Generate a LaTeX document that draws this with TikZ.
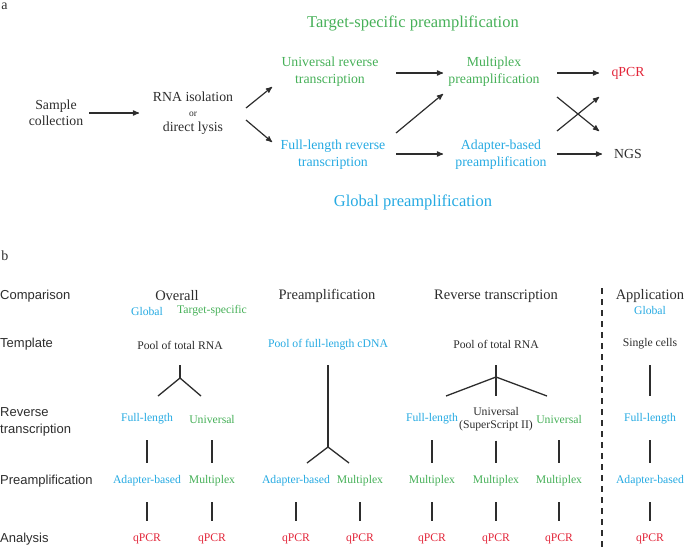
\documentclass[tikz,border=0pt]{standalone}
\usepackage{fontspec}
\setmainfont{Liberation Serif}
\setsansfont{Liberation Sans}
\usepackage{xcolor}
\usepackage{tikz}
\usetikzlibrary{arrows}
\definecolor{tsgreen}{RGB}{70,176,88}
\definecolor{glblue}{RGB}{38,170,226}
\definecolor{pcrred}{RGB}{226,38,58}
\definecolor{ink}{RGB}{45,45,45}
\tikzset{
    txt/.style = {align=center, inner sep=0pt, text=ink},
    flow/.style = {txt, font=\fontsize{13.8}{16.5}\selectfont},
    head/.style = {txt, font=\fontsize{16.5}{18}\selectfont},
    colhead/.style = {txt, font=\fontsize{14.5}{16}\selectfont},
    item/.style = {txt, font=\fontsize{11.7}{13}\selectfont},
    rowlabel/.style = {txt, anchor=west, align=left, font=\sffamily\fontsize{13}{17}\selectfont},
    tsp/.style = {text=tsgreen},
    glb/.style = {text=glblue},
    pcr/.style = {text=pcrred},
    arr/.style = {->, ink, line width=1.2pt},
    link/.style = {ink, line width=1.3pt},
    vlink/.style = {link, shorten <=21pt, shorten >=18.5pt}
}

\begin{document}
\begin{tikzpicture}[x=1pt, y=-1pt, >=stealth']
    \useasboundingbox (0,0) rectangle (685,547);

    % a: workflow
    \node[txt, font=\fontsize{14}{16}\selectfont] (la) at (4.5,6.5) {a};
    \node[head, tsp] (ttsp) at (413,23) {Target-specific preamplification};
    \node[head, glb] (tglb) at (413,202) {Global preamplification};
    \node[flow] (samp) at (56,113) {Sample\\collection};
    \node[flow, font=\fontsize{13.8}{15}\selectfont] (rna) at (193,113)
        {RNA isolation\\{\fontsize{9.5}{15}\selectfont or}\\direct lysis};
    \node[flow, tsp] (univ) at (330,71.5) {Universal reverse\\transcription};
    \node[flow, glb] (full) at (333,154.5) {Full-length reverse\\transcription};
    \node[flow, tsp] (multi) at (494,71.5) {Multiplex\\preamplification};
    \node[flow, glb] (adapt) at (501,154.5) {Adapter-based\\preamplification};
    \node[flow, pcr] (qpcr) at (628,73) {qPCR};
    \node[flow] (ngs) at (628,154) {NGS};

    \draw[arr] ([shift={(33,0)}]samp.center) -- ([shift={(-54,0)}]rna.center);
    \draw[arr] ([shift={(53,-5)}]rna.center) -- ([shift={(-58,15.5)}]univ.center);
    \draw[arr] ([shift={(53,7)}]rna.center) -- ([shift={(-61,-12.5)}]full.center);
    \draw[arr] ([shift={(66,1.5)}]univ.center) -- ([shift={(-51,1.5)}]multi.center);
    \draw[arr] ([shift={(63,-21.5)}]full.center) -- ([shift={(-51,22.5)}]multi.center);
    \draw[arr] ([shift={(63,-0.5)}]full.center) -- ([shift={(-58,-0.5)}]adapt.center);
    \draw[arr] ([shift={(63,1.5)}]multi.center) -- ([shift={(-29,0)}]qpcr.center);
    \draw[arr] ([shift={(63,25.5)}]multi.center) -- ([shift={(-29,-23)}]ngs.center);
    \draw[arr] ([shift={(56,-23.5)}]adapt.center) -- ([shift={(-29,24)}]qpcr.center);
    \draw[arr] ([shift={(56,-0.5)}]adapt.center) -- ([shift={(-26,0)}]ngs.center);

    % b: comparison table
    \node[txt, font=\fontsize{14}{16}\selectfont] (lb) at (5,256) {b};
    \node[rowlabel] (rcmp) at (0,296) {Comparison};
    \node[rowlabel] (rtpl) at (0,344) {Template};
    \node[rowlabel] (rrt) at (0,421.5) {Reverse\\transcription};
    \node[rowlabel] (rpre) at (0,481) {Preamplification};
    \node[rowlabel] (rana) at (0,539) {Analysis};

    % overall
    \node[colhead] (h1) at (177,296) {Overall};
    \node[item, glb] (g1) at (147,311) {Global};
    \node[item, tsp] (t1) at (212,311) {Target-specific};
    \node[item] (p1) at (180,345) {Pool of total RNA};
    \coordinate (j1) at (180,378);
    \coordinate (e1a) at (158,396);
    \coordinate (e1b) at (201,396);
    \node[item, glb] (fl1) at (147,419) {Full-length};
    \node[item, tsp] (un1) at (212,419) {Universal};
    \node[item, glb] (ab1) at (147,481) {Adapter-based};
    \node[item, tsp] (mp1) at (212,481) {Multiplex};
    \node[item, pcr] (q1a) at (147,539) {qPCR};
    \node[item, pcr] (q1b) at (212,539) {qPCR};
    \draw[link, shorten <=20pt] (p1.center) -- (j1);
    \draw[link] (e1a) -- (j1) -- (e1b);
    \draw[vlink] (fl1.center) -- (ab1.center);
    \draw[vlink] (un1.center) -- (mp1.center);
    \draw[vlink] (ab1.center) -- (q1a.center);
    \draw[vlink] (mp1.center) -- (q1b.center);

    % preamplification
    \node[colhead] (h2) at (327,296) {Preamplification};
    \node[item, glb] (p2) at (328,345) {Pool of full-length cDNA};
    \coordinate (j2) at (328,447);
    \coordinate (e2a) at (307,463);
    \coordinate (e2b) at (349,463);
    \node[item, glb] (ab2) at (296,481) {Adapter-based};
    \node[item, tsp] (mp2) at (360,481) {Multiplex};
    \node[item, pcr] (q2a) at (296,539) {qPCR};
    \node[item, pcr] (q2b) at (360,539) {qPCR};
    \draw[link, shorten <=20pt] (p2.center) -- (j2);
    \draw[link] (e2a) -- (j2) -- (e2b);
    \draw[vlink] (ab2.center) -- (q2a.center);
    \draw[vlink] (mp2.center) -- (q2b.center);

    % reverse transcription
    \node[colhead] (h3) at (496,296) {Reverse transcription};
    \node[item] (p3) at (496,344) {Pool of total RNA};
    \coordinate (j3) at (496,377);
    \coordinate (e3) at (496,396);
    \coordinate (e3a) at (446,396);
    \coordinate (e3b) at (547,396);
    \node[item, glb] (fl3) at (432,419) {Full-length};
    \node[item] (us3) at (496,419.5) {Universal\\(SuperScript II)};
    \node[item, tsp] (un3) at (559,419) {Universal};
    \node[item, tsp] (mp3a) at (432,481) {Multiplex};
    \node[item, tsp] (mp3b) at (496,481) {Multiplex};
    \node[item, tsp] (mp3c) at (559,481) {Multiplex};
    \node[item, pcr] (q3a) at (432,539) {qPCR};
    \node[item, pcr] (q3b) at (496,539) {qPCR};
    \node[item, pcr] (q3c) at (559,539) {qPCR};
    \draw[link, shorten <=21pt] (p3.center) -- (e3);
    \draw[link] (e3a) -- (j3) -- (e3b);
    \draw[vlink] (fl3.center) -- (mp3a.center);
    \draw[vlink] (us3.center) -- (mp3b.center);
    \draw[vlink] (un3.center) -- (mp3c.center);
    \draw[vlink] (mp3a.center) -- (q3a.center);
    \draw[vlink] (mp3b.center) -- (q3b.center);
    \draw[vlink] (mp3c.center) -- (q3c.center);

    % application
    \coordinate (dtop) at (602,288);
    \coordinate (dbot) at (602,547);
    \draw[link, dash pattern=on 6pt off 5pt] (dtop) -- (dbot);
    \node[colhead] (h4) at (650,296) {Application};
    \node[item, glb] (g4) at (650,310) {Global};
    \node[item] (sc4) at (650,344) {Single cells};
    \node[item, glb] (fl4) at (650,419) {Full-length};
    \node[item, glb] (ab4) at (650,481) {Adapter-based};
    \node[item, pcr] (q4) at (650,539) {qPCR};
    \draw[vlink, shorten >=23pt] (sc4.center) -- (fl4.center);
    \draw[vlink] (fl4.center) -- (ab4.center);
    \draw[vlink] (ab4.center) -- (q4.center);
\end{tikzpicture}
\end{document}
